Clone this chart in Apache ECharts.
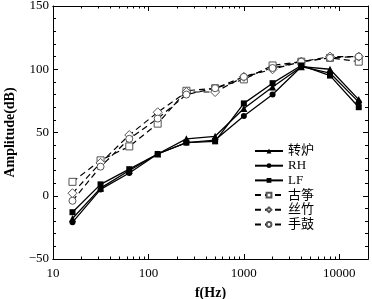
<!DOCTYPE html>
<html>
<head>
<meta charset="utf-8">
<script src="https://cdn.jsdelivr.net/npm/echarts@6/dist/echarts.min.js"></script>
<style>
  html, body { margin: 0; padding: 0; background: #fff; }
  #chart { width: 372px; height: 299px; }
</style>
</head>
<body>
<div id="chart"></div>
<script>
const freqs = [16, 31.5, 63, 125, 250, 500, 1000, 2000, 4000, 8000, 16000]
const zhuanlu = [-18, 6, 20, 33, 45, 47, 69, 86, 102, 100, 76]
const rh = [-21, 5, 18, 33, 42, 44, 63, 80, 102, 97, 74]
const lf = [-13, 9, 21, 33, 42, 43, 73, 89, 103, 95, 70]
const guzheng = [11, 28, 39, 57, 83, 85, 92, 103, 106, 109, 106]
const sizhu = [2, 26, 48, 66, 82, 82, 94, 100, 106, 110, 110]
const shougu = [-4, 23, 45, 61, 80, 85, 94, 101, 106, 109, 110]

const xMajor = [10, 100, 1000, 10000]
const xMinor = [20, 30, 40, 50, 60, 70, 80, 90, 200, 300, 400, 500, 600, 700, 800, 900,
  2000, 3000, 4000, 5000, 6000, 7000, 8000, 9000]

const chart = echarts.init(document.getElementById('chart'))

const serif = 'Liberation Serif, Noto Sans CJK SC'
const pair = arr => arr.map((v, i) => [freqs[i], v])

const solid = (name, data, symbol) => ({
  name: name,
  type: 'line',
  data: pair(data),
  symbol: symbol,
  symbolSize: symbol === 'triangle' ? 7 : 6,
  lineStyle: { color: '#000', width: 1.3 },
  itemStyle: { color: '#000' },
  z: 3
})
const dashed = (name, data, symbol) => ({
  name: name,
  type: 'line',
  data: pair(data),
  symbol: symbol,
  symbolSize: symbol === 'diamond' ? 9 : 7,
  lineStyle: { color: '#000', width: 1.2, type: [6, 4] },
  itemStyle: { color: '#fff', borderColor: '#555', borderWidth: 1 },
  z: 2
})

const xBase = {
  type: 'log',
  logBase: 10,
  min: 10,
  max: 20000,
  splitLine: { show: false },
  axisLine: { show: true, onZero: false, lineStyle: { color: '#000', width: 1 } }
}

const option = {
  animation: false,
  grid: { left: 53, right: 4, top: 6, bottom: 40, outerBoundsMode: 'none', containLabel: false },
  legend: {
    orient: 'vertical',
    left: 249,
    top: 139,
    itemWidth: 28,
    itemHeight: 6,
    itemGap: 0.7,
    textStyle: { fontFamily: serif, fontSize: 13, lineHeight: 14, color: '#000' },
    data: ['转炉', 'RH', 'LF', '古筝', '丝竹', '手鼓']
  },
  xAxis: [
    Object.assign({}, xBase, {
      position: 'bottom',
      name: 'f(Hz)',
      nameLocation: 'middle',
      nameGap: 27,
      nameTextStyle: { fontFamily: 'Liberation Serif', fontWeight: 'bold', fontSize: 14, color: '#000' },
      axisTick: { show: true, inside: true, length: 5, customValues: xMajor, lineStyle: { color: '#000' } },
      axisLabel: {
        customValues: xMajor, fontFamily: 'Liberation Serif', fontSize: 13, color: '#000', margin: 8,
        formatter: v => String(Math.round(v))
      }
    }),
    Object.assign({}, xBase, {
      position: 'bottom',
      axisTick: { show: true, inside: true, length: 2.5, customValues: xMinor, lineStyle: { color: '#000' } },
      axisLabel: { show: false }
    }),
    Object.assign({}, xBase, {
      position: 'top',
      axisTick: { show: true, inside: true, length: 5, customValues: xMajor, lineStyle: { color: '#000' } },
      axisLabel: { show: false }
    }),
    Object.assign({}, xBase, {
      position: 'top',
      axisTick: { show: true, inside: true, length: 2.5, customValues: xMinor, lineStyle: { color: '#000' } },
      axisLabel: { show: false }
    })
  ],
  yAxis: [
    {
      type: 'value',
      position: 'left',
      min: -50,
      max: 150,
      interval: 50,
      name: 'Amplitude(dB)',
      nameLocation: 'middle',
      nameGap: 36,
      nameTextStyle: { fontFamily: 'Liberation Serif', fontWeight: 'bold', fontSize: 14, color: '#000' },
      splitLine: { show: false },
      axisLine: { show: true, onZero: false, lineStyle: { color: '#000', width: 1 } },
      axisTick: { show: true, inside: true, length: 5, lineStyle: { color: '#000' } },
      minorTick: { show: true, splitNumber: 5, length: 3, lineStyle: { color: '#000' } },
      axisLabel: {
        fontFamily: 'Liberation Serif', fontSize: 13, color: '#000', margin: 4,
        formatter: v => String(v).replace('-', '\u2212')
      }
    },
    {
      type: 'value',
      position: 'right',
      min: -50,
      max: 150,
      interval: 50,
      splitLine: { show: false },
      axisLine: { show: true, onZero: false, lineStyle: { color: '#000', width: 1 } },
      axisTick: { show: true, inside: true, length: 5, lineStyle: { color: '#000' } },
      minorTick: { show: true, splitNumber: 5, length: 3, lineStyle: { color: '#000' } },
      axisLabel: { show: false }
    }
  ],
  series: [
    solid('转炉', zhuanlu, 'triangle'),
    solid('RH', rh, 'circle'),
    solid('LF', lf, 'rect'),
    dashed('古筝', guzheng, 'rect'),
    dashed('丝竹', sizhu, 'diamond'),
    dashed('手鼓', shougu, 'circle')
  ]
}

chart.setOption(option)
</script>
</body>
</html>
